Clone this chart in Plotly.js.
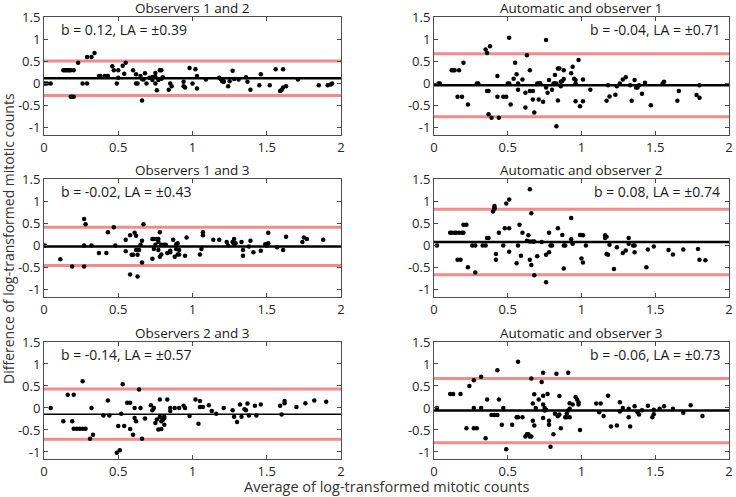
<!DOCTYPE html>
<html>
<head>
<meta charset="utf-8">
<script src="https://cdn.plot.ly/plotly-3.0.1.min.js"></script>
<style>
  html, body { margin: 0; padding: 0; background: #fff; }
  #chart { width: 736px; height: 497px; }
</style>
</head>
<body>
<div id="chart"></div>
<script>
// Observers 1 and 2
const o12x = [0.007, 0.02, 0.045, 0.13, 0.14, 0.15, 0.16, 0.17, 0.18, 0.2, 0.18, 0.19, 0.2, 0.23, 0.26, 0.29,
  0.29, 0.32, 0.34, 0.37, 0.38, 0.41, 0.42, 0.43, 0.46, 0.47, 0.49, 0.5, 0.5, 0.53, 0.55, 0.54, 0.6, 0.62, 0.63,
  0.62, 0.65, 0.66, 0.66, 0.67, 0.68, 0.69, 0.71, 0.73, 0.73, 0.75, 0.75, 0.75, 0.76, 0.77, 0.78, 0.79, 0.79,
  0.8, 0.84, 0.85, 0.86, 0.94, 0.94, 0.95, 0.98, 1.0, 1.02, 1.03, 1.03, 1.09, 1.18, 1.19, 1.2, 1.21, 1.21,
  1.24, 1.25, 1.27, 1.28, 1.31, 1.36, 1.37, 1.39, 1.45, 1.46, 1.52, 1.56, 1.59, 1.6, 1.61, 1.63, 1.61, 1.71,
  1.85, 1.91, 1.93, 1.94];
const o12y = [0, 0, 0, 0.3, 0.3, 0.3, 0.3, 0.3, 0.3, 0.3, -0.3, -0.3, -0.3, 0.47, 0, 0,
  0.6, 0.6, 0.69, 0.17, 0.17, 0.17, 0.17, 0.17, 0.39, 0.3, 0, 0.3, 0.13, 0.4, 0.47, 0.22, 0.3, 0, 0,
  0.21, 0.17, 0.1, -0.38, 0.09, 0.23, 0, 0.13, 0.15, 0.08, 0.24, 0.15, 0, -0.15, 0.08, 0.3, 0.3, 0.11,
  0.14, -0.14, 0, -0.06, -0.06, 0.04, -0.09, 0.35, 0, 0.32, 0.17, -0.11, 0.09, 0.13, 0.1, 0.05, 0.05, 0.04,
  -0.06, 0.05, 0.29, 0.1, 0.09, 0.14, 0.04, -0.14, -0.04, 0.21, -0.04, 0.32, -0.17, -0.14, -0.09, -0.06, 0.32, 0.09,
  -0.04, -0.04, -0.02, 0];

// Automatic and observer 1
const a1x = [0.03, 0.04, 0.12, 0.13, 0.14, 0.17, 0.16, 0.19, 0.2, 0.23, 0.29, 0.3, 0.35, 0.36, 0.36, 0.37,
  0.38, 0.37, 0.39, 0.43, 0.43, 0.44, 0.47, 0.49, 0.5, 0.51, 0.51, 0.52, 0.54, 0.55, 0.56, 0.57, 0.57, 0.6,
  0.62, 0.63, 0.62, 0.65, 0.65, 0.67, 0.67, 0.68, 0.7, 0.71, 0.72, 0.72, 0.71, 0.74, 0.76, 0.76, 0.77, 0.78,
  0.8, 0.81, 0.82, 0.83, 0.82, 0.83, 0.84, 0.84, 0.85, 0.86, 0.86, 0.87, 0.88, 0.88, 0.93, 0.94, 0.95, 0.96,
  0.96, 0.96, 0.98, 0.99, 1.01, 1.01, 1.06, 1.17, 1.18, 1.19, 1.23, 1.24, 1.26, 1.28, 1.3, 1.33, 1.34, 1.36,
  1.37, 1.38, 1.39, 1.41, 1.43, 1.47, 1.55, 1.56, 1.65, 1.66, 1.78, 1.8, 1.8];
const a1y = [0, 0, 0.3, 0.3, 0.3, 0.3, -0.3, -0.3, 0.47, -0.47, 0, 0, 0.77, 0.69, -0.17, -0.17,
  0.84, -0.69, -0.77, 0.17, -0.3, -0.77, -0.3, -0.3, 0, 0, 1.03, -0.47, 0.11, 0.47, 0.21, 0, -0.14, 0.09,
  -0.54, 0.64, -0.21, 0.3, -0.17, -0.17, -0.36, -0.65, 0, 0, 0, 0, -0.36, -0.41, 0.98, -0.09, -0.21, 0.08,
  -0.14, 0, 0, 0, 0.19, -0.96, -0.38, 0.34, 0.34, 0.04, -0.06, 0.06, 0.3, 0.1, 0.23, 0.38, 0.11, 0,
  0.08, -0.4, 0.53, -0.51, 0.09, -0.4, -0.14, -0.39, -0.04, -0.29, -0.25, -0.06, 0, 0.09, 0.14, -0.04, -0.39, 0.08,
  -0.09, -0.09, -0.04, -0.23, 0.02, -0.49, 0, 0.04, -0.39, -0.17, -0.26, -0.32, -0.04];

// Observers 1 and 3
const o13x = [0.007, 0.11, 0.19, 0.27, 0.28, 0.27, 0.27, 0.32, 0.37, 0.42, 0.43, 0.47, 0.48, 0.55, 0.55,
  0.58, 0.58, 0.59, 0.6, 0.61, 0.62, 0.62, 0.63, 0.64, 0.63, 0.65, 0.66, 0.66, 0.67, 0.73, 0.73, 0.74, 0.76,
  0.77, 0.74, 0.75, 0.77, 0.77, 0.78, 0.78, 0.79, 0.79, 0.81, 0.82, 0.83, 0.85, 0.85, 0.87, 0.88, 0.89, 0.89,
  0.9, 0.9, 0.91, 0.91, 0.95, 0.96, 1.05, 1.06, 1.07, 1.07, 1.14, 1.18, 1.23, 1.24, 1.27, 1.28, 1.28, 1.29,
  1.33, 1.34, 1.34, 1.38, 1.39, 1.41, 1.46, 1.49, 1.5, 1.51, 1.51, 1.57, 1.61, 1.63, 1.74, 1.75, 1.77, 1.88];
const o13y = [0, -0.31, -0.47, 0.6, 0.48, -0.47, 0, 0, -0.17, -0.17, 0.3, 0.41, 0, 0.13, -0.13,
  0.23, -0.65, -0.21, -0.21, 0.29, 0.22, -0.1, -0.21, -0.1, -0.7, 0.02, 0.11, -0.38, 0.48, -0.3, 0.15, 0.15, 0.15,
  0.15, -0.08, 0.02, 0.08, -0.1, 0.3, -0.25, -0.2, 0.02, 0.02, 0.02, -0.17, -0.12, -0.15, 0.13, -0.25, 0.03, -0.08,
  -0.2, 0.05, -0.1, -0.2, -0.23, 0.18, -0.2, -0.08, 0.3, 0.23, 0.13, 0.13, 0.08, 0, 0.08, 0.03, 0.15, 0.05,
  0.08, -0.1, -0.23, -0.02, 0.11, -0.15, -0.12, 0.03, 0, 0.29, 0.05, -0.04, -0.1, 0.2, 0.08, 0.18, 0.15, 0.13];

// Automatic and observer 2
const a2x = [0.02, 0.11, 0.12, 0.14, 0.15, 0.17, 0.19, 0.2, 0.16, 0.18, 0.2, 0.22, 0.23, 0.26, 0.28, 0.28,
  0.33, 0.35, 0.36, 0.37, 0.4, 0.41, 0.41, 0.41, 0.42, 0.42, 0.44, 0.47, 0.48, 0.51, 0.49, 0.51, 0.51, 0.56,
  0.57, 0.58, 0.59, 0.6, 0.63, 0.64, 0.65, 0.65, 0.65, 0.66, 0.66, 0.67, 0.68, 0.68, 0.7, 0.73, 0.76, 0.78,
  0.76, 0.78, 0.79, 0.8, 0.84, 0.87, 0.88, 0.89, 0.88, 0.93, 0.93, 0.94, 0.94, 0.99, 1.0, 1.01, 1.0, 1.01,
  1.03, 1.16, 1.16, 1.17, 1.17, 1.18, 1.19, 1.22, 1.24, 1.28, 1.3, 1.32, 1.32, 1.35, 1.36, 1.36, 1.44, 1.45,
  1.49, 1.59, 1.62, 1.69, 1.79, 1.8, 1.84];
const a2y = [0, 0.29, 0.29, 0.29, 0.29, 0.29, 0.29, 0.29, -0.32, -0.32, 0.47, 0.47, -0.49, 0, 0, -0.61,
  0, 0, 0.17, 0.17, 0.77, 0.83, 0.89, 0.85, -0.19, -0.32, 0.29, 0, 0.39, 0.39, 0.95, 1.04, -0.14, -0.4,
  0, 0.47, -0.23, 0.29, 0.11, 0.23, 0.09, -0.32, 1.27, 0.73, -0.44, 0.09, 0.09, -0.67, -0.24, 0.08, -0.21, -0.15,
  -0.83, 0.29, 0, 0, 0.39, 0.24, 0, 0, -0.52, 0.62, 0.14, 0.04, 0.06, 0.24, 0.24, 0.23, -0.29, -0.38,
  0, 0.23, 0.17, 0.2, -0.19, -0.21, 0.02, -0.53, -0.04, -0.17, -0.11, 0.17, 0.04, 0, 0, -0.15, -0.49, -0.09,
  -0.02, -0.1, -0.2, -0.09, -0.08, -0.32, -0.33];

// Observers 2 and 3
const o23x = [0.045, 0.13, 0.16, 0.2, 0.19, 0.2, 0.22, 0.24, 0.26, 0.28, 0.26, 0.31, 0.32, 0.33, 0.4, 0.44,
  0.43, 0.49, 0.51, 0.5, 0.54, 0.52, 0.53, 0.56, 0.58, 0.58, 0.6, 0.61, 0.61, 0.62, 0.64, 0.65, 0.66, 0.68,
  0.72, 0.73, 0.74, 0.75, 0.76, 0.77, 0.78, 0.78, 0.79, 0.79, 0.8, 0.81, 0.81, 0.81, 0.83, 0.85, 0.85, 0.88,
  0.91, 0.94, 0.95, 0.98, 1.02, 1.05, 1.04, 1.05, 1.07, 1.11, 1.13, 1.16, 1.21, 1.27, 1.28, 1.3, 1.32, 1.33,
  1.35, 1.36, 1.37, 1.38, 1.42, 1.43, 1.46, 1.59, 1.6, 1.62, 1.62, 1.7, 1.76, 1.82, 1.9];
const o23y = [0, -0.3, 0.3, 0.3, -0.3, -0.47, -0.47, -0.47, -0.47, -0.47, 0.61, -0.7, 0, -0.61, -0.17, -0.17,
  0.17, -1.02, -0.96, -0.41, -0.41, -0.13, 0.54, 0.12, 0.12, -0.48, -0.61, 0, -0.23, -0.3, 0.42, 0, -0.7, -0.24,
  0.06, -0.05, 0, -0.34, -0.26, -0.49, 0.19, -0.2, -0.3, -0.48, -0.27, -0.38, -0.19, -0.23, 0.19, 0, -0.07, 0,
  0, 0.05, 0, -0.18, 0.19, 0.16, -0.36, 0.02, 0.02, 0.06, -0.07, -0.13, 0, -0.05, -0.2, -0.32, 0.08, -0.2,
  -0.03, -0.05, 0.1, -0.17, 0.05, -0.17, 0.08, 0.05, -0.15, 0.11, 0.16, 0.02, 0.11, 0.17, 0.14];

// Automatic and observer 3
const a3x = [0.02, 0.11, 0.13, 0.18, 0.22, 0.24, 0.27, 0.27, 0.27, 0.29, 0.32, 0.32, 0.35, 0.36, 0.39, 0.41,
  0.43, 0.43, 0.44, 0.46, 0.47, 0.49, 0.53, 0.56, 0.57, 0.6, 0.57, 0.62, 0.63, 0.64, 0.65, 0.66, 0.66, 0.67,
  0.67, 0.68, 0.68, 0.69, 0.71, 0.73, 0.74, 0.74, 0.75, 0.76, 0.74, 0.75, 0.74, 0.77, 0.78, 0.78, 0.79, 0.81,
  0.82, 0.83, 0.84, 0.85, 0.85, 0.86, 0.89, 0.9, 0.9, 0.91, 0.91, 0.92, 0.92, 0.92, 0.94, 0.96, 0.97, 0.98,
  0.98, 0.99, 1.1, 1.13, 1.12, 1.15, 1.18, 1.2, 1.24, 1.26, 1.26, 1.28, 1.32, 1.32, 1.33, 1.36, 1.38, 1.39,
  1.41, 1.45, 1.48, 1.49, 1.49, 1.53, 1.56, 1.62, 1.69, 1.74, 1.82];
const a3y = [0, 0.32, 0.32, 0.32, -0.46, 0.5, 0.63, 0, -0.46, -0.46, 0.71, 0, -0.69, 0.19, -0.16, -0.16,
  -0.16, 0.86, 0.19, -0.38, 0, -0.94, -0.38, -0.21, -0.21, -0.21, 1.05, -0.65, -0.6, -0.6, -0.65, -0.65, 0.67, 0.1,
  -0.29, -0.4, 0.31, 0, 0.19, 0.59, 0.8, 0.08, 0, -0.04, 0.28, -0.06, -0.23, 0.32, -0.29, -0.38, -0.88, -0.6,
  -0.13, 0.78, -0.19, -0.15, 0.27, -0.46, -0.21, -0.13, -0.21, 0.8, -0.06, -0.02, -0.21, 0.11, 0.08, 0.25, 0.19, 0.13,
  0.08, -0.5, 0.1, 0.1, -0.1, -0.18, 0.28, -0.42, -0.4, 0.13, -0.08, 0, -0.02, -0.21, -0.42, 0.04, -0.1, -0.15,
  -0.05, 0.05, -0.21, -0.14, -0.04, -0.02, 0.04, -0.02, -0.11, 0.06, -0.18];

const panelTitles = ['Observers 1 and 2', 'Automatic and observer 1', 'Observers 1 and 3',
  'Automatic and observer 2', 'Observers 2 and 3', 'Automatic and observer 3'];
const bias = [0.12, -0.04, -0.02, 0.08, -0.14, -0.06];
const limits = [0.39, 0.71, 0.43, 0.74, 0.57, 0.73];
const meanWidth = [2.5, 2.5, 2.5, 2.5, 1.5, 2.5];
const xRange = [0, 2];
const yRange = [-1.16, 1.5];
const xTicks = [0, 0.5, 1, 1.5, 2];
const yTicks = [-1, -0.5, 0, 0.5, 1, 1.5];

const pointsX = [o12x, a1x, o13x, a2x, o23x, a3x];
const pointsY = [o12y, a1y, o13y, a2y, o23y, a3y];

const xDomains = [[0, 0.4336], [0.5693, 1]];
const yDomains = [[0.733, 1], [0.3665, 0.6335], [0, 0.2647]];

const fmt = v => (v < 0 ? '-' : '') + Math.abs(v).toFixed(2);

const traces = [];
const layout = {
  width: 736,
  height: 497,
  margin: { l: 44, r: 7, t: 17, b: 38 },
  paper_bgcolor: '#fff',
  plot_bgcolor: '#fff',
  showlegend: false,
  font: { family: 'Open Sans, sans-serif', size: 13, color: '#262626' },
  annotations: []
};

panelTitles.forEach((title, i) => {
  const n = i + 1;
  const sfx = n === 1 ? '' : String(n);
  const xa = 'x' + sfx, ya = 'y' + sfx;
  const col = i % 2, row = Math.floor(i / 2);

  const upper = bias[i] + limits[i];
  const lower = bias[i] - limits[i];

  // limits of agreement
  [upper, lower].forEach(v => {
    traces.push({
      x: xRange, y: [v, v], xaxis: xa, yaxis: ya,
      mode: 'lines', line: { color: '#f08c8c', width: 3 }, hoverinfo: 'skip'
    });
  });
  // mean difference
  traces.push({
    x: xRange, y: [bias[i], bias[i]], xaxis: xa, yaxis: ya,
    mode: 'lines', line: { color: '#000', width: meanWidth[i] }, hoverinfo: 'skip'
  });
  traces.push({
    x: pointsX[i], y: pointsY[i], xaxis: xa, yaxis: ya,
    mode: 'markers', marker: { color: '#000', size: 4.5 }
  });

  const axisCommon = {
    showline: true, mirror: 'ticks', linecolor: '#4d4d4d', linewidth: 1,
    ticks: 'inside', ticklen: 4, tickcolor: '#4d4d4d',
    showgrid: false, zeroline: false, fixedrange: true,
    tickfont: { family: 'Open Sans, sans-serif', size: 13, color: '#262626' }
  };
  layout['xaxis' + sfx] = Object.assign({}, axisCommon, {
    domain: xDomains[col], range: xRange, tickvals: xTicks, ticktext: xTicks.map(String),
    anchor: 'y' + sfx
  });
  layout['yaxis' + sfx] = Object.assign({}, axisCommon, {
    domain: yDomains[row], range: yRange, tickvals: yTicks, ticktext: yTicks.map(String),
    anchor: 'x' + sfx
  });

  layout.annotations.push({
    text: title, xref: 'paper', yref: 'paper',
    x: (xDomains[col][0] + xDomains[col][1]) / 2, y: yDomains[row][1],
    xanchor: 'center', yanchor: 'middle', yshift: 9, showarrow: false,
    font: { size: 13.5, color: '#1a1a1a' }
  });
  layout.annotations.push({
    text: 'b = ' + fmt(bias[i]) + ', LA = ±' + limits[i].toFixed(2),
    xref: xa, yref: ya,
    x: col === 0 ? 0.1 : 1.95, y: 1.22,
    xanchor: col === 0 ? 'left' : 'right', yanchor: 'middle', showarrow: false,
    font: { size: 14, color: '#1a1a1a' }
  });
});

layout.annotations.push({
  text: 'Average of log-transformed mitotic counts', xref: 'paper', yref: 'paper',
  x: 0.5, y: -0.063, xanchor: 'center', yanchor: 'middle', showarrow: false,
  font: { size: 14.5, color: '#333' }
});
layout.annotations.push({
  text: 'Difference of log-transformed mitotic counts', xref: 'paper', yref: 'paper',
  x: -0.0526, y: 0.5, xanchor: 'center', yanchor: 'middle', textangle: -90, showarrow: false,
  font: { size: 14, color: '#333' }
});

Plotly.newPlot('chart', traces, layout, { displayModeBar: false, staticPlot: true });
</script>
</body>
</html>
